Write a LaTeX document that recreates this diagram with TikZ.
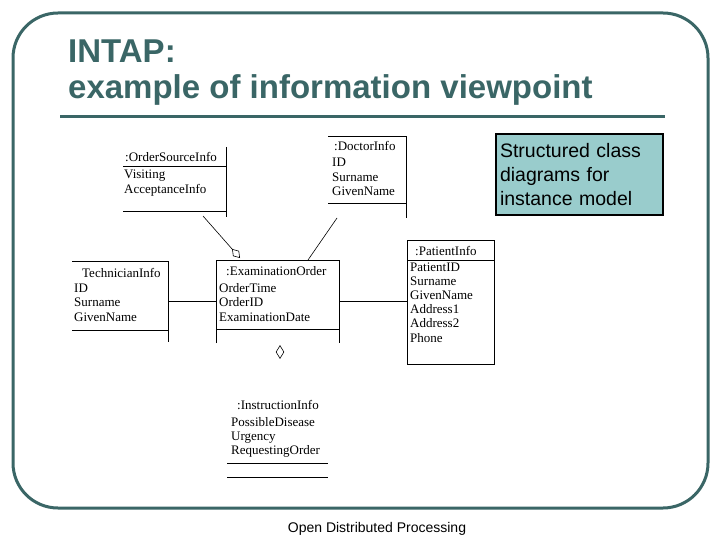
\documentclass[tikz,border=0pt]{standalone}
\usepackage{fontspec}
\setmainfont{Liberation Serif}
\setsansfont{Liberation Sans}
\usetikzlibrary{positioning,shapes.geometric,arrows.meta}
\definecolor{frameteal}{HTML}{3A6666}
\definecolor{noteblue}{HTML}{99CCCC}
\tikzset{
	attr/.style={anchor=base west, inner sep=0pt, font=\fontsize{13}{15}\selectfont},
	classline/.style={line width=0.8pt},
}
\begin{document}
\begin{tikzpicture}[x=1pt,y=-1pt]
	\useasboundingbox (0,0) rectangle (720,540);
	% Frame and title
	\draw[frameteal, line width=3pt, rounded corners=45pt] (13,13) rectangle (708,508);
	\node[anchor=base west, inner sep=0pt, text=frameteal, font=\sffamily\bfseries\fontsize{33}{36}\selectfont] (title) at (68,63) {INTAP:};
	\node[anchor=base west, inner sep=0pt, text=frameteal, font=\sffamily\bfseries\fontsize{33}{36}\selectfont] (subtitle) at (68,99) {example of information viewpoint};
	\draw[frameteal, line width=3pt] (60,117) -- (665,117);
	% Note box
	\node[draw=black, line width=2pt, fill=noteblue, anchor=north west, minimum width=167pt, minimum height=81pt,
		text width=159pt, inner sep=4pt, align=left, font=\sffamily\fontsize{19.5}{24}\selectfont] (note) at (495,133)
		{Structured class\\diagrams for\\instance model};
	% OrderSourceInfo
	\node[attr] (osi) at (125,162) {:OrderSourceInfo};
	\foreach \a [count=\i] in {Visiting,AcceptanceInfo}
		\node[attr] (osi-\i) at (124,{179+(\i-1)*15}) {\a};
	\draw[classline] (123,166) -- (226,166);
	\draw[classline] (123,211) -- (226,211);
	\draw[classline] (226,147) -- (226,217);
	% DoctorInfo
	\node[attr] (doc) at (334,151) {:DoctorInfo};
	\foreach \a [count=\i] in {ID,Surname,GivenName}
		\node[attr] (doc-\i) at (332,{167+(\i-1)*14.5}) {\a};
	\draw[classline] (328,136) -- (406,136) -- (406,218);
	\draw[classline] (328,203) -- (406,203);
	% TechnicianInfo
	\node[attr] (tech) at (82,277) {TechnicianInfo};
	\foreach \a [count=\i] in {ID,Surname,GivenName}
		\node[attr] (tech-\i) at (74,{292+(\i-1)*14.5}) {\a};
	\draw[classline] (72,261) -- (168,261) -- (168,342);
	\draw[classline] (72,330) -- (168,330);
	% ExaminationOrder
	\node[attr] (exam) at (226,275) {:ExaminationOrder};
	\foreach \a [count=\i] in {OrderTime,OrderID,ExaminationDate}
		\node[attr] (exam-\i) at (219,{292+(\i-1)*14.5}) {\a};
	\draw[classline] (216,343) -- (216,260) -- (339,260) -- (339,343);
	\draw[classline] (216,329) -- (339,329);
	\node[diamond, draw, line width=0.6pt, minimum width=8pt, minimum height=13pt, inner sep=0pt] (agg) at (280,352) {};
	% PatientInfo
	\node[attr] (pat) at (415,255) {:PatientInfo};
	\foreach \a [count=\i] in {PatientID,Surname,GivenName,Address1,Address2,Phone}
		\node[attr] (pat-\i) at (410,{271+(\i-1)*14.2}) {\a};
	\draw[classline] (407,240) rectangle (494,364);
	\draw[classline] (407,260) -- (494,260);
	% InstructionInfo
	\node[attr] (ins) at (237,409) {:InstructionInfo};
	\foreach \a [count=\i] in {PossibleDisease,Urgency,RequestingOrder}
		\node[attr] (ins-\i) at (231,{426+(\i-1)*14}) {\a};
	\draw[classline] (227,463) -- (328,463);
	\draw[classline] (227,477) -- (328,477);
	% Connectors
	\coordinate (tech-r) at (168,301);
	\coordinate (exam-l) at (216,301);
	\coordinate (exam-r) at (339,301);
	\coordinate (pat-l) at (407,301);
	\coordinate (osi-end) at (203,216);
	\coordinate (exam-tl) at (240,258);
	\coordinate (doc-end) at (337,218);
	\coordinate (exam-tr) at (308,260);
	\draw[classline] (tech-r) -- (exam-l);
	\draw[classline] (exam-r) -- (pat-l);
	\draw[line width=0.6pt, -{Diamond[open,length=12pt,width=8pt]}] (osi-end) -- (exam-tl);
	\draw[line width=0.6pt] (doc-end) -- (exam-tr);
	% Footer
	\node[font=\sffamily\fontsize{14}{16}\selectfont] (footer) at (377,529) {Open Distributed Processing};
\end{tikzpicture}
\end{document}
